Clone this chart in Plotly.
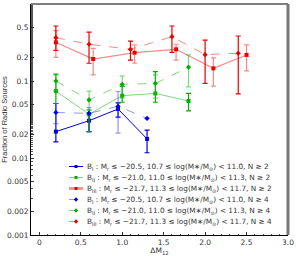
import plotly.graph_objects as go

# ---- data ----
x_red_solid = [0.2, 0.65, 1.15, 1.65, 2.1, 2.5]
y_red_solid = [0.318, 0.193, 0.233, 0.258, 0.146, 0.218]
hi_red_solid = [0.45, 0.266, 0.294, 0.30, 0.20, 0.294]
lo_red_solid = [0.203, 0.12, 0.17, 0.187, 0.086, 0.135]

x_red_dash = [0.2, 0.6, 1.1, 1.6, 2.0, 2.4]
y_red_dash = [0.365, 0.30, 0.258, 0.376, 0.22, 0.229]
hi_red_dash = [0.518, 0.43, 0.33, 0.518, 0.34, 0.384]
lo_red_dash = [0.25, 0.17, 0.187, 0.235, 0.093, 0.068]

x_green_solid = [0.2, 0.6, 1.0, 1.4, 1.8]
y_green_solid = [0.074, 0.037, 0.0645, 0.069, 0.055]
hi_green_solid = [0.123, 0.042, 0.085, 0.132, 0.069]
lo_green_solid = [0.051, 0.022, 0.053, 0.053, 0.041]

x_green_dash = [0.2, 0.6, 1.0, 1.4, 1.8]
y_green_dash = [0.10, 0.0567, 0.0906, 0.093, 0.151]
hi_green_dash = [0.12, 0.074, 0.116, 0.12, 0.218]
lo_green_dash = [0.075, 0.042, 0.06, 0.06, 0.084]

x_blue_solid = [0.2, 0.6, 0.95, 1.3]
y_blue_solid = [0.022, 0.0305, 0.0433, 0.0177]
hi_blue_solid = [0.051, 0.037, 0.052, 0.023]
lo_blue_solid = [0.0162, 0.022, 0.034, 0.0117]

x_blue_dash = [0.2, 0.6, 0.95, 1.3]
y_blue_dash = [0.039, 0.038, 0.047, 0.0327]
hi_blue_dash = [0.051, 0.045, 0.073, 0.0327]
lo_blue_dash = [0.028, 0.022, 0.021, 0.0327]

labels = [
    "B<sub>I</sub> : M<sub>r</sub> ≤ −20.5, 10.7 ≤ log(M∗/M<sub>⊙</sub>) < 11.0, N ≥ 2",
    "B<sub>II</sub> : M<sub>r</sub> ≤ −21.0, 11.0 ≤ log(M∗/M<sub>⊙</sub>) < 11.3, N ≥ 2",
    "B<sub>III</sub> : M<sub>r</sub> ≤ −21.7, 11.3 ≤ log(M∗/M<sub>⊙</sub>) < 11.7, N ≥ 2",
    "B<sub>I</sub> : M<sub>r</sub> ≤ −20.5, 10.7 ≤ log(M∗/M<sub>⊙</sub>) < 11.0, N ≥ 4",
    "B<sub>II</sub> : M<sub>r</sub> ≤ −21.0, 11.0 ≤ log(M∗/M<sub>⊙</sub>) < 11.3, N ≥ 4",
    "B<sub>III</sub> : M<sub>r</sub> ≤ −21.7, 11.3 ≤ log(M∗/M<sub>⊙</sub>) < 11.7, N ≥ 4",
]

x_ticks = [0, 0.5, 1.0, 1.5, 2.0, 2.5, 3.0]
x_ticktext = ["0", "0.5", "1.0", "1.5", "2.0", "2.5", "3.0"]
y_ticks = [0.001, 0.002, 0.005, 0.01, 0.02, 0.05, 0.1, 0.2, 0.5, 1]
y_ticktext = ["0.001", "0.002", "0.005", "0.01", "0.02", "0.05", "0.1", "0.2", "0.5", "1"]

BLUE = "rgb(0,0,230)"
BLUE_L = "rgba(60,60,240,0.55)"
GREEN = "rgb(0,175,0)"
GREEN_L = "rgba(40,190,40,0.6)"
RED = "rgb(235,0,0)"
RED_L = "rgba(240,40,40,0.55)"

series = [
    (x_blue_solid, y_blue_solid, hi_blue_solid, lo_blue_solid, BLUE, BLUE, BLUE, "solid", "square", 1.0),
    (x_green_solid, y_green_solid, hi_green_solid, lo_green_solid, GREEN_L, GREEN, GREEN, "solid", "square", 1.0),
    (x_red_solid, y_red_solid, hi_red_solid, lo_red_solid, RED_L, RED_L, RED, "solid", "square", 1.2),
    (x_blue_dash, y_blue_dash, hi_blue_dash, lo_blue_dash, BLUE_L, BLUE_L, BLUE, "dash", "diamond", 1.0),
    (x_green_dash, y_green_dash, hi_green_dash, lo_green_dash, GREEN_L, GREEN_L, GREEN, "dash", "diamond", 1.0),
    (x_red_dash, y_red_dash, hi_red_dash, lo_red_dash, RED_L, RED, RED, "dash", "diamond", 1.0),
]

W, H = 296, 256
ML, MR, MT, MB = 31, 8, 4, 21
PW, PH = W - ML - MR, H - MT - MB


def px2x(px):
    return (px - ML) / PW


def px2y(py):
    return 1 - (py - MT) / PH


fig = go.Figure()
shapes = [
    dict(type="line", xref="paper", yref="paper", x0=0, x1=1, y0=1, y1=1,
         line=dict(color="black", width=1.2)),
    dict(type="line", xref="paper", yref="paper", x0=1, x1=1, y0=0, y1=1,
         line=dict(color="#777", width=3)),
]
annotations = []

for i, (xs, ys, his, los, lc, ec, mc, dash, sym, lw) in enumerate(series):
    plus = [h - y for h, y in zip(his, ys)]
    minus = [y - l for l, y in zip(los, ys)]
    fig.add_trace(go.Scatter(
        x=xs, y=ys, name=labels[i], mode="lines+markers", showlegend=False,
        line=dict(color=lc, width=lw, dash=dash),
        marker=dict(symbol=sym, size=4, color=mc),
        error_y=dict(type="data", symmetric=False, array=plus, arrayminus=minus,
                     color=ec, thickness=1.2, width=2.5),
    ))
    # manual legend row
    ry = 166.5 + 11 * i
    yy = px2y(ry)
    shapes.append(dict(type="line", xref="paper", yref="paper",
                       x0=px2x(69), x1=px2x(83), y0=yy, y1=yy,
                       line=dict(color=lc, width=lw + (1.5 if i == 2 else 0), dash=dash)))
    if sym == "square":
        shapes.append(dict(type="rect", xref="paper", yref="paper",
                           x0=px2x(74.5), x1=px2x(77.5), y0=px2y(ry + 1.5), y1=px2y(ry - 1.5),
                           fillcolor=mc, line=dict(width=0)))
    else:
        cx, cy = 76, ry
        path = "M {a} {b} L {c} {d} L {a} {e} L {f} {d} Z".format(
            a=px2x(cx), b=px2y(cy - 2.2), c=px2x(cx + 2.2), d=px2y(cy),
            e=px2y(cy + 2.2), f=px2x(cx - 2.2))
        shapes.append(dict(type="path", xref="paper", yref="paper", path=path,
                           fillcolor=mc, line=dict(width=0)))
    annotations.append(dict(xref="paper", yref="paper", x=px2x(85), y=yy,
                            xanchor="left", yanchor="middle", showarrow=False,
                            text=labels[i],
                            font=dict(family="DejaVu Sans, sans-serif", size=7.3, color="#333")))

fig.update_layout(
    width=W, height=H,
    margin=dict(l=ML, r=MR, t=MT, b=MB),
    paper_bgcolor="white", plot_bgcolor="white",
    font=dict(family="DejaVu Sans, sans-serif", size=7.5, color="#333"),
    showlegend=False,
    xaxis=dict(range=[-0.1, 3.0], tickvals=x_ticks, ticktext=x_ticktext,
               ticks="inside", ticklen=3, tickcolor="#333", showgrid=False,
               zeroline=False, showline=True, linecolor="black", linewidth=1,
               automargin=False,
               minor=dict(ticks="inside", ticklen=1.5, dtick=0.1, tickcolor="#555"),
               title=dict(text="ΔM<sub>12</sub>", font=dict(size=7.5), standoff=0)),
    yaxis=dict(type="log", range=[-3, 0], tickvals=y_ticks, ticktext=y_ticktext,
               ticks="inside", ticklen=3, tickcolor="#333", showgrid=False,
               zeroline=False, showline=True, linecolor="black", linewidth=1,
               automargin=False,
               minor=dict(ticks="inside", ticklen=1.5, tickcolor="#555"),
               title=dict(text="Fraction of Radio Sources",
                          font=dict(family="Liberation Sans, Arial, sans-serif", size=7.5),
                          standoff=2)),
    shapes=shapes,
    annotations=annotations,
)

fig.write_html("out.html", config={"displayModeBar": False},
               post_script="document.body.style.margin='0';document.body.style.overflow='hidden';")
